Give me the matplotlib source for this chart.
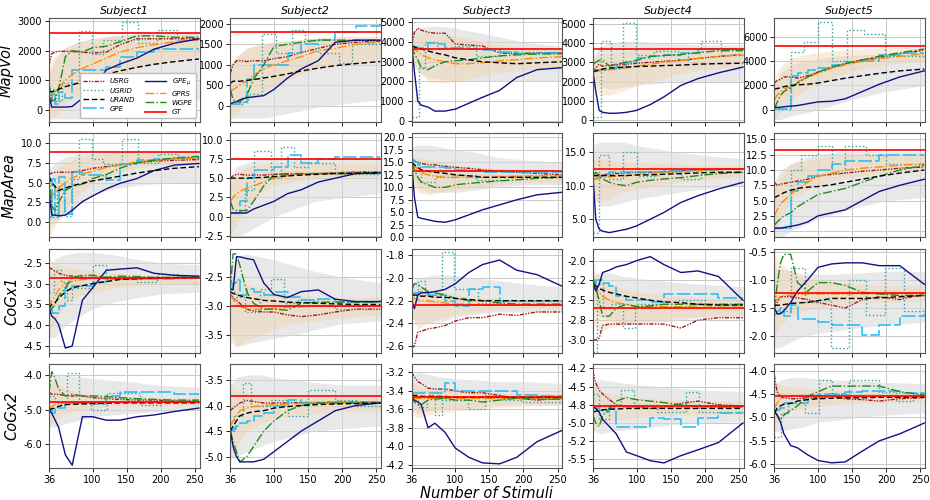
import matplotlib
matplotlib.use('Agg')
import matplotlib.pyplot as plt
from matplotlib.lines import Line2D
from matplotlib.ticker import MultipleLocator, FormatStrFormatter

# ---------------------------------------------------------------- data
STIM = [36, 40, 45, 50, 60, 70, 85, 100, 120, 140, 165, 190, 220, 256]
BAND_STIM = [36, 45, 60, 80, 100, 130, 160, 200, 256]
SUBJECTS = ['Subject1', 'Subject2', 'Subject3', 'Subject4', 'Subject5']
METRICS = ['MapVol', 'MapArea', 'CoGx1', 'CoGx2']

# --- MapVol
MAPVOL_GT = [2600, 1800, 3650, 3680, 5230]
MAPVOL_USRG = [
    [1500, 1900, 1950, 1980, 1980, 1970, 1950, 1920, 1950, 2200, 2400, 2400, 2400, 2400],
    [800, 1000, 1100, 1100, 1080, 1100, 1100, 1150, 1200, 1300, 1400, 1500, 1550, 1580],
    [3800, 4500, 4700, 4600, 4500, 4450, 4450, 3900, 3850, 3800, 3450, 3400, 3450, 3450],
    [2500, 2700, 2900, 2800, 2850, 2870, 2900, 2950, 3000, 3050, 3100, 3200, 3300, 3400],
    [2200, 2400, 2500, 2700, 2700, 2600, 2800, 3100, 3500, 3800, 4100, 4300, 4600, 4900]]
MAPVOL_URAND = [
    [600, 620, 650, 700, 790, 850, 950, 1060, 1200, 1320, 1440, 1540, 1630, 1720],
    [550, 600, 600, 600, 620, 640, 680, 720, 780, 850, 920, 980, 1030, 1080],
    [3800, 3750, 3700, 3650, 3550, 3450, 3350, 3200, 3100, 3000, 2950, 2900, 2950, 3000],
    [2500, 2550, 2600, 2650, 2700, 2720, 2750, 2780, 2800, 2830, 2850, 2900, 2930, 2950],
    [1700, 1750, 1800, 1900, 2000, 2050, 2100, 2200, 2400, 2600, 2800, 3000, 3200, 3350]]
MAPVOL_GPE = [
    [300, 600, 200, 600, 400, 1350, 1350, 1350, 1450, 1800, 1950, 2050, 2050, 2050],
    [50, 50, 50, 100, 650, 1000, 1000, 1000, 1300, 1500, 1600, 1800, 1950, 2000],
    [3800, 3750, 3700, 3700, 3950, 3900, 3700, 3700, 3650, 3600, 3500, 3400, 3450, 3450],
    [2600, 2600, 2600, 2600, 2650, 2800, 3000, 3200, 3300, 3400, 3500, 3700, 3700, 3700],
    [100, 100, 100, 100, 2800, 3000, 3300, 3400, 3700, 3900, 4000, 4500, 4700, 4700]]
MAPVOL_GPEMU = [
    [500, 100, 100, 100, 100, 120, 400, 700, 1350, 1550, 1750, 2050, 2250, 2400],
    [50, 80, 100, 150, 200, 220, 250, 400, 680, 900, 1100, 1550, 1600, 1600],
    [3800, 2500, 1000, 800, 700, 500, 500, 600, 900, 1200, 1550, 2200, 2600, 2700],
    [2500, 1500, 500, 400, 350, 350, 400, 500, 800, 1200, 1800, 2150, 2450, 2750],
    [200, 200, 200, 250, 300, 350, 500, 650, 700, 900, 1500, 2100, 2700, 3200]]
MAPVOL_GPRS = [
    [350, 450, 600, 750, 1000, 1200, 1400, 1550, 1750, 1950, 2100, 2200, 2300, 2370],
    [350, 400, 450, 520, 600, 750, 900, 1000, 1100, 1200, 1350, 1400, 1500, 1550],
    [3800, 3650, 3500, 3350, 3200, 3100, 3000, 2900, 2900, 2950, 3050, 3100, 3200, 3250],
    [2500, 2520, 2550, 2580, 2600, 2650, 2700, 2800, 2900, 3000, 3100, 3200, 3300, 3400],
    [800, 1200, 1500, 1700, 1900, 2300, 2700, 3000, 3400, 3700, 4000, 4200, 4400, 4600]]
MAPVOL_WGPE = [
    [900, 300, 350, 700, 1800, 2000, 1950, 2100, 2150, 2300, 2500, 2500, 2450, 2450],
    [400, 150, 100, 100, 250, 650, 1000, 1450, 1500, 1550, 1600, 1600, 1600, 1600],
    [3800, 3400, 3100, 2700, 2600, 2800, 3000, 3050, 3100, 3200, 3300, 3350, 3400, 3400],
    [2900, 3000, 3100, 3100, 2800, 2900, 3000, 3100, 3300, 3350, 3400, 3500, 3600, 3600],
    [100, 600, 1200, 1500, 1800, 2200, 2700, 3100, 3500, 3800, 4100, 4400, 4700, 5000]]
MAPVOL_UGRID_X = [
    [36, 45, 55, 80, 99, 115, 143, 167, 195, 224, 256],
    [36, 55, 62, 82, 103, 126, 145, 165, 195, 215, 256],
    [36, 46, 55, 73, 100, 130, 165, 256],
    [36, 48, 62, 80, 99, 125, 160, 175, 195, 224, 256],
    [36, 61, 80, 100, 120, 143, 168, 198, 256]]
MAPVOL_UGRID_Y = [
    [700, 300, 900, 2650, 1900, 2350, 2950, 2250, 2700, 2350, 2350],
    [50, 100, 300, 1750, 1300, 1850, 1600, 1300, 1050, 1500, 1500],
    [200, 2700, 4000, 3700, 3800, 3300, 3500, 3500],
    [150, 4100, 2700, 5050, 3400, 3600, 3100, 3500, 4100, 3400, 3400],
    [100, 4750, 5600, 7250, 4000, 6600, 6200, 4400, 4400]]
MAPVOL_GREY_LO = [
    [-300, -300, -300, -300, -250, -100, 100, 250, 350],
    [-300, -300, -300, -300, -250, -150, -50, 50, 150],
    [3000, 2500, 2200, 2100, 2050, 2000, 2000, 2000, 2000],
    [2300, 1800, 1600, 1700, 1800, 1900, 2000, 2000, 2000],
    [-800, -800, -500, -300, 0, 500, 1000, 1500, 2000]]
MAPVOL_GREY_HI = [
    [1200, 1700, 2100, 2300, 2400, 2500, 2550, 2600, 2650],
    [900, 1200, 1400, 1500, 1550, 1600, 1650, 1650, 1650],
    [4500, 4700, 4800, 4800, 4700, 4500, 4300, 4000, 3800],
    [3200, 3800, 4000, 4100, 4100, 4000, 3950, 3900, 3900],
    [2000, 3000, 3700, 4000, 4200, 4400, 4500, 4600, 4700]]
MAPVOL_BEIGE_LO = [
    [-300, -200, 200, 500, 800, 1100, 1400, 1600, 1800],
    [-300, -200, 100, 300, 500, 700, 900, 1000, 1100],
    [3200, 2600, 2000, 1900, 2000, 2200, 2400, 2600, 2700],
    [2000, 1300, 1300, 1500, 1800, 2100, 2400, 2600, 2800],
    [-900, -200, 800, 1500, 2200, 2800, 3300, 3700, 4000]]
MAPVOL_BEIGE_HI = [
    [1400, 1800, 2100, 2300, 2400, 2500, 2550, 2550, 2550],
    [1000, 1200, 1400, 1500, 1550, 1600, 1650, 1700, 1700],
    [4300, 4500, 4500, 4400, 4300, 4100, 3900, 3700, 3700],
    [3200, 3400, 3500, 3600, 3650, 3700, 3700, 3700, 3700],
    [2500, 3500, 4300, 4500, 4700, 4900, 5000, 5100, 5200]]

# --- MapArea
MAPAREA_GT = [8.85, 7.5, 13.3, 12.5, 13.2]
MAPAREA_USRG = [
    [6.0, 6.2, 6.3, 6.3, 6.3, 6.3, 6.5, 6.8, 7.0, 7.2, 7.5, 7.7, 7.8, 7.9],
    [5.0, 5.3, 5.5, 5.5, 5.4, 5.4, 5.4, 5.5, 5.5, 5.5, 5.6, 5.7, 5.8, 5.8],
    [15.5, 15.3, 15.0, 14.8, 14.5, 14.5, 14.2, 14.0, 13.8, 13.5, 13.2, 13.0, 12.8, 12.5],
    [11.5, 11.5, 11.6, 11.6, 11.7, 11.8, 11.9, 12.0, 12.0, 12.1, 12.2, 12.3, 12.4, 12.5],
    [8.0, 7.5, 7.7, 7.8, 8.0, 8.2, 8.5, 9.0, 9.3, 9.5, 9.8, 10.0, 10.3, 10.5]]
MAPAREA_URAND = [
    [5.8, 5.0, 4.5, 4.0, 4.3, 4.6, 4.9, 5.2, 5.5, 5.8, 6.2, 6.5, 6.8, 7.0],
    [5.0, 5.0, 5.0, 5.0, 5.0, 5.05, 5.1, 5.2, 5.3, 5.4, 5.5, 5.6, 5.65, 5.7],
    [15.0, 14.5, 14.0, 13.5, 13.2, 13.0, 12.8, 12.5, 12.3, 12.0, 12.0, 12.0, 12.0, 12.0],
    [11.5, 11.5, 11.5, 11.5, 11.5, 11.5, 11.5, 11.6, 11.6, 11.7, 11.8, 11.9, 12.0, 12.0],
    [5.5, 5.7, 6.0, 6.3, 6.7, 7.0, 7.2, 7.3, 7.6, 8.0, 8.5, 9.0, 9.5, 10.0]]
MAPAREA_GPE = [
    [0.6, 5.5, 0.8, 5.7, 1.0, 6.3, 6.0, 6.0, 5.3, 7.3, 7.8, 8.0, 8.1, 8.2],
    [0.5, 0.5, 0.5, 2.0, 5.0, 6.0, 6.0, 6.5, 8.0, 7.0, 7.5, 7.7, 7.7, 7.7],
    [15.5, 15.0, 14.5, 14.0, 14.0, 14.0, 13.8, 13.5, 13.3, 13.0, 13.0, 13.0, 13.0, 13.0],
    [11.0, 11.2, 11.5, 11.8, 12.0, 12.0, 12.0, 12.0, 12.0, 12.2, 12.3, 12.4, 12.5, 12.5],
    [0.5, 0.5, 0.5, 0.5, 6.5, 8.0, 9.0, 10.0, 11.0, 11.5, 11.5, 12.5, 12.5, 12.5]]
MAPAREA_GPEMU = [
    [4.0, 0.9, 0.9, 0.8, 0.9, 1.5, 2.6, 3.3, 4.2, 4.9, 5.5, 6.5, 7.2, 7.4],
    [0.5, 0.5, 0.5, 0.5, 0.5, 1.0, 1.5, 2.0, 3.0, 3.5, 4.5, 5.0, 5.6, 5.7],
    [15.0, 8.0, 4.0, 3.8, 3.5, 3.2, 3.0, 3.5, 4.5, 5.5, 6.5, 7.5, 8.5, 9.0],
    [11.5, 5.0, 3.5, 3.2, 3.0, 3.2, 3.5, 4.0, 5.0, 6.0, 7.5, 8.5, 9.5, 10.5],
    [0.5, 0.5, 0.5, 0.6, 0.8, 1.0, 1.5, 2.5, 3.0, 3.5, 5.0, 6.5, 7.5, 8.5]]
MAPAREA_GPRS = [
    [2.8, 3.3, 3.8, 4.3, 5.0, 5.6, 6.1, 6.4, 6.9, 7.2, 7.6, 7.8, 8.0, 8.1],
    [2.0, 2.5, 3.0, 3.3, 3.7, 4.0, 4.5, 5.0, 5.3, 5.5, 5.6, 5.6, 5.7, 5.7],
    [15.0, 14.2, 13.5, 13.0, 12.5, 12.2, 12.0, 12.0, 12.0, 12.0, 12.1, 12.2, 12.3, 12.3],
    [11.0, 11.0, 11.1, 11.2, 11.3, 11.4, 11.5, 11.7, 11.8, 12.0, 12.1, 12.2, 12.4, 12.5],
    [2.5, 3.5, 4.5, 5.0, 6.0, 7.0, 8.0, 9.0, 9.5, 10.0, 10.3, 10.5, 10.8, 11.0]]
MAPAREA_WGPE = [
    [6.0, 2.0, 1.5, 2.5, 4.0, 4.5, 4.8, 5.5, 6.0, 6.8, 7.5, 7.8, 8.1, 8.3],
    [2.0, 1.0, 0.8, 0.8, 0.8, 2.0, 4.0, 5.5, 5.6, 5.6, 5.6, 5.6, 5.6, 5.6],
    [15.0, 13.5, 12.0, 11.0, 10.5, 10.0, 10.0, 10.5, 10.8, 11.0, 11.3, 11.5, 11.8, 12.0],
    [11.5, 12.0, 11.5, 11.0, 10.5, 10.2, 10.0, 10.5, 10.8, 11.0, 11.2, 11.5, 11.8, 12.0],
    [1.0, 1.5, 2.0, 2.5, 3.0, 4.0, 5.0, 6.0, 6.5, 7.0, 8.0, 9.0, 10.0, 10.8]]
MAPAREA_UGRID_X = [
    [36, 48, 58, 70, 80, 99, 115, 143, 167, 196, 225, 256],
    [36, 58, 70, 95, 110, 130, 150, 190, 256],
    [36, 50, 70, 100, 130, 165, 256],
    [36, 45, 60, 80, 100, 130, 165, 195, 225, 256],
    [36, 60, 75, 100, 120, 140, 170, 200, 256]]
MAPAREA_UGRID_Y = [
    [0.6, 4.0, 0.8, 5.5, 10.5, 8.0, 7.3, 10.5, 7.5, 8.6, 8.1, 8.1],
    [0.5, 3.5, 8.5, 5.0, 9.0, 6.5, 7.0, 5.5, 5.5],
    [14.0, 11.0, 12.0, 12.5, 11.5, 12.0, 12.0],
    [3.0, 14.5, 11.0, 15.0, 11.5, 12.0, 11.0, 12.5, 12.0, 12.0],
    [0.5, 10.0, 12.5, 14.0, 9.5, 14.0, 12.5, 11.0, 11.0]]
MAPAREA_GREY_LO = [
    [-0.5, 0.0, 1.0, 2.5, 3.5, 4.2, 4.6, 4.9, 5.0],
    [-2.6, -2.6, -2.0, -1.0, 0.0, 1.0, 2.0, 2.5, 3.0],
    [12.0, 10.0, 9.0, 9.0, 9.0, 9.5, 10.0, 10.5, 10.5],
    [9.0, 7.0, 7.0, 7.5, 8.0, 8.5, 9.0, 9.5, 10.0],
    [-1.0, -1.0, 0.0, 1.0, 2.0, 3.0, 4.0, 5.0, 5.5]]
MAPAREA_GREY_HI = [
    [6.5, 7.5, 8.2, 8.6, 8.7, 8.8, 8.9, 8.9, 9.0],
    [5.0, 6.5, 7.0, 7.5, 7.5, 7.5, 7.5, 7.5, 7.5],
    [18.0, 18.5, 18.5, 18.0, 17.5, 17.0, 16.0, 15.5, 15.0],
    [16.0, 16.5, 16.5, 16.5, 16.0, 15.5, 15.0, 14.5, 14.0],
    [8.0, 10.0, 11.0, 12.0, 12.5, 13.0, 13.0, 13.0, 13.0]]
MAPAREA_BEIGE_LO = [
    [-1.8, -0.5, 1.5, 3.5, 5.0, 6.0, 6.8, 7.2, 7.5],
    [-2.6, -1.0, 1.5, 3.0, 4.0, 4.5, 5.0, 5.2, 5.3],
    [11.0, 9.0, 8.5, 9.0, 9.5, 10.0, 10.5, 11.0, 11.0],
    [8.0, 7.5, 8.0, 9.0, 9.5, 10.0, 10.5, 11.0, 11.3],
    [-1.0, 2.0, 5.0, 6.5, 7.5, 8.5, 9.0, 9.5, 10.0]]
MAPAREA_BEIGE_HI = [
    [5.0, 6.5, 7.5, 8.2, 8.5, 8.7, 8.7, 8.7, 8.7],
    [4.5, 5.5, 6.5, 6.8, 7.0, 7.0, 7.0, 7.0, 7.0],
    [16.0, 16.0, 15.5, 15.0, 14.5, 14.0, 13.8, 13.5, 13.5],
    [14.0, 14.0, 13.8, 13.6, 13.5, 13.3, 13.2, 13.0, 13.0],
    [7.0, 9.0, 11.0, 11.5, 12.0, 12.3, 12.5, 12.5, 12.5]]

# --- CoGx1
COGX1_GT = [-2.86, -3.0, -2.235, -2.6, -1.24]
COGX1_USRG = [
    [-2.6, -2.65, -2.7, -2.75, -2.8, -2.82, -2.85, -2.85, -2.88, -2.88, -2.88, -2.87, -2.86, -2.85],
    [-2.8, -2.85, -2.9, -2.95, -3.05, -3.08, -3.1, -3.1, -3.15, -3.18, -3.15, -3.1, -3.05, -3.05],
    [-2.62, -2.6, -2.48, -2.47, -2.45, -2.44, -2.42, -2.38, -2.35, -2.35, -2.32, -2.33, -2.3, -2.3],
    [-3.0, -3.0, -2.98, -2.82, -2.8, -2.8, -2.8, -2.8, -2.8, -2.8, -2.85, -2.75, -2.72, -2.72],
    [-1.5, -1.4, -1.3, -1.3, -1.3, -1.32, -1.35, -1.4, -1.45, -1.5, -1.35, -1.3, -1.35, -1.25]]
COGX1_URAND = [
    [-3.6, -3.5, -3.45, -3.35, -3.2, -3.1, -3.05, -3.0, -2.95, -2.9, -2.88, -2.87, -2.86, -2.85],
    [-2.75, -2.78, -2.8, -2.82, -2.85, -2.87, -2.9, -2.91, -2.93, -2.94, -2.95, -2.96, -2.97, -2.97],
    [-2.15, -2.15, -2.15, -2.16, -2.16, -2.17, -2.17, -2.18, -2.19, -2.2, -2.2, -2.2, -2.2, -2.2],
    [-2.3, -2.32, -2.35, -2.37, -2.4, -2.42, -2.45, -2.47, -2.5, -2.52, -2.53, -2.55, -2.56, -2.56],
    [-1.45, -1.45, -1.45, -1.44, -1.42, -1.41, -1.4, -1.37, -1.33, -1.33, -1.33, -1.32, -1.3, -1.28]]
COGX1_GPE = [
    [-3.6, -3.7, -3.7, -3.55, -3.1, -3.05, -3.05, -2.95, -2.88, -2.88, -2.9, -2.88, -2.85, -2.85],
    [-2.7, -2.6, -2.55, -2.8, -2.7, -2.75, -2.8, -2.75, -2.85, -2.9, -2.87, -2.93, -2.92, -2.9],
    [-2.15, -2.13, -2.12, -2.12, -2.15, -2.15, -2.2, -2.25, -2.1, -2.08, -2.2, -2.2, -2.2, -2.2],
    [-2.3, -2.25, -2.25, -2.28, -2.32, -2.45, -2.5, -2.5, -2.52, -2.42, -2.42, -2.42, -2.47, -2.47],
    [-1.6, -1.55, -1.5, -1.65, -1.45, -1.7, -1.7, -1.75, -1.8, -1.8, -1.97, -1.8, -1.65, -1.6]]
COGX1_GPEMU = [
    [-3.6, -3.78, -3.85, -3.98, -4.55, -4.5, -3.4, -3.1, -2.68, -2.65, -2.62, -2.75, -2.8, -2.82],
    [-2.7, -2.72, -2.15, -2.15, -2.18, -2.2, -2.6, -2.8, -2.85, -2.75, -2.72, -2.88, -2.92, -2.92],
    [-2.2, -2.27, -2.15, -2.13, -2.13, -2.12, -2.1, -2.05, -1.95, -1.88, -1.84, -1.93, -1.97, -2.07],
    [-2.3, -2.38, -2.3, -2.15, -2.12, -2.08, -2.05, -2.0, -1.95, -2.05, -2.15, -2.13, -2.2, -2.5],
    [-1.5, -1.6, -1.6, -1.55, -1.4, -1.2, -1.0, -0.78, -0.72, -0.7, -0.7, -0.75, -0.75, -1.08]]
COGX1_GPRS = [
    [-3.6, -3.4, -3.3, -3.15, -3.0, -2.95, -2.9, -2.88, -2.87, -2.87, -2.86, -2.86, -2.85, -2.85],
    [-2.8, -2.88, -2.95, -3.0, -3.05, -3.05, -3.05, -3.04, -3.02, -3.01, -3.0, -3.0, -3.0, -3.0],
    [-2.18, -2.18, -2.19, -2.2, -2.2, -2.21, -2.22, -2.23, -2.23, -2.24, -2.24, -2.24, -2.24, -2.24],
    [-2.3, -2.35, -2.4, -2.45, -2.5, -2.53, -2.55, -2.58, -2.58, -2.58, -2.58, -2.57, -2.57, -2.57],
    [-1.4, -1.35, -1.3, -1.28, -1.27, -1.26, -1.25, -1.25, -1.25, -1.25, -1.25, -1.25, -1.25, -1.25]]
COGX1_WGPE = [
    [-3.7, -3.6, -3.5, -3.3, -3.1, -2.85, -2.8, -2.8, -2.85, -2.82, -2.83, -2.85, -2.85, -2.85],
    [-2.7, -2.1, -2.1, -2.3, -2.75, -2.95, -3.05, -3.05, -3.07, -2.95, -2.93, -2.93, -2.93, -2.93],
    [-2.1, -2.05, -2.05, -2.08, -2.12, -2.13, -2.15, -2.18, -2.2, -2.2, -2.22, -2.23, -2.23, -2.23],
    [-2.2, -2.35, -2.5, -2.7, -2.7, -2.6, -2.55, -2.58, -2.57, -2.55, -2.55, -2.55, -2.55, -2.55],
    [-1.5, -1.1, -0.7, -0.55, -0.55, -1.05, -1.2, -1.05, -1.05, -1.1, -1.22, -1.25, -1.28, -1.28]]
COGX1_UGRID_X = [
    [36, 43, 53, 63, 70, 100, 119, 165, 195, 225, 256],
    [36, 45, 58, 80, 95, 115, 135, 160, 190, 256],
    [36, 45, 56, 81, 98, 133, 170, 256],
    [36, 42, 50, 62, 80, 98, 140, 160, 200, 256],
    [36, 45, 61, 81, 100, 119, 145, 170, 198, 226, 256]]
COGX1_UGRID_Y = [
    [-3.2, -2.66, -2.95, -3.4, -3.1, -2.55, -2.9, -2.95, -2.78, -2.85, -2.85],
    [-2.75, -2.85, -3.1, -2.7, -2.53, -2.95, -2.9, -3.0, -3.05, -3.05],
    [-2.15, -2.03, -2.15, -1.77, -2.1, -2.22, -2.2, -2.2],
    [-3.15, -2.3, -2.6, -2.55, -2.85, -2.55, -2.58, -2.5, -2.55, -2.55],
    [-1.6, -1.55, -0.8, -1.4, -1.35, -2.21, -1.0, -1.62, -0.8, -1.55, -1.55]]
COGX1_GREY_LO = [
    [-4.3, -4.3, -4.0, -3.8, -3.6, -3.45, -3.35, -3.25, -3.2],
    [-3.6, -3.7, -3.65, -3.6, -3.55, -3.5, -3.4, -3.3, -3.25],
    [-2.35, -2.4, -2.4, -2.38, -2.35, -2.32, -2.3, -2.3, -2.3],
    [-2.6, -2.7, -2.75, -2.8, -2.8, -2.78, -2.75, -2.72, -2.7],
    [-2.2, -2.2, -2.1, -2.0, -1.95, -1.9, -1.85, -1.8, -1.75]]
COGX1_GREY_HI = [
    [-2.7, -2.4, -2.3, -2.25, -2.25, -2.3, -2.4, -2.5, -2.55],
    [-2.3, -2.15, -2.1, -2.15, -2.2, -2.3, -2.4, -2.5, -2.6],
    [-2.05, -2.0, -1.98, -1.97, -1.98, -2.0, -2.02, -2.05, -2.08],
    [-2.2, -2.15, -2.15, -2.2, -2.22, -2.25, -2.28, -2.3, -2.33],
    [-0.8, -0.8, -0.85, -0.9, -0.9, -0.9, -0.88, -0.85, -0.85]]
COGX1_BEIGE_LO = [
    [-4.2, -3.9, -3.5, -3.3, -3.2, -3.1, -3.05, -3.0, -3.0],
    [-3.4, -3.7, -3.6, -3.5, -3.4, -3.3, -3.25, -3.2, -3.15],
    [-2.35, -2.45, -2.4, -2.35, -2.32, -2.3, -2.28, -2.27, -2.27],
    [-2.8, -2.9, -2.85, -2.8, -2.78, -2.75, -2.72, -2.7, -2.7],
    [-2.0, -1.8, -1.65, -1.55, -1.5, -1.45, -1.42, -1.4, -1.38]]
COGX1_BEIGE_HI = [
    [-2.4, -2.5, -2.6, -2.65, -2.7, -2.75, -2.78, -2.8, -2.8],
    [-2.5, -2.5, -2.6, -2.7, -2.75, -2.8, -2.85, -2.85, -2.85],
    [-2.05, -2.05, -2.1, -2.12, -2.15, -2.17, -2.18, -2.2, -2.2],
    [-2.1, -2.2, -2.3, -2.35, -2.4, -2.42, -2.45, -2.47, -2.48],
    [-0.55, -0.7, -0.85, -0.95, -1.0, -1.05, -1.08, -1.1, -1.1]]

# --- CoGx2
COGX2_GT = [-4.78, -3.81, -3.47, -4.77, -4.55]
COGX2_USRG = [
    [-4.5, -4.55, -4.55, -4.55, -4.6, -4.6, -4.6, -4.65, -4.68, -4.7, -4.72, -4.72, -4.75, -4.75],
    [-4.1, -4.05, -4.0, -3.95, -3.9, -3.92, -3.95, -3.95, -3.95, -3.94, -3.94, -3.93, -3.93, -3.93],
    [-3.2, -3.25, -3.3, -3.32, -3.37, -3.38, -3.38, -3.4, -3.42, -3.42, -3.45, -3.48, -3.5, -3.48],
    [-4.3, -4.45, -4.55, -4.6, -4.68, -4.75, -4.77, -4.78, -4.8, -4.78, -4.73, -4.7, -4.75, -4.77],
    [-4.1, -4.45, -4.55, -4.58, -4.6, -4.6, -4.58, -4.58, -4.55, -4.6, -4.62, -4.65, -4.6, -4.58]]
COGX2_URAND = [
    [-5.0, -4.97, -4.95, -4.9, -4.85, -4.84, -4.83, -4.82, -4.81, -4.8, -4.8, -4.8, -4.8, -4.8],
    [-4.5, -4.4, -4.3, -4.2, -4.15, -4.12, -4.1, -4.05, -4.02, -4.0, -3.98, -3.97, -3.96, -3.95],
    [-3.45, -3.45, -3.45, -3.46, -3.46, -3.46, -3.46, -3.47, -3.47, -3.47, -3.47, -3.47, -3.47, -3.47],
    [-4.85, -4.84, -4.83, -4.82, -4.81, -4.81, -4.8, -4.8, -4.8, -4.8, -4.8, -4.8, -4.8, -4.8],
    [-4.9, -4.8, -4.75, -4.72, -4.7, -4.65, -4.62, -4.6, -4.59, -4.58, -4.58, -4.57, -4.57, -4.57]]
COGX2_GPE = [
    [-5.0, -5.1, -4.95, -4.95, -4.8, -4.8, -4.8, -4.82, -4.6, -4.5, -4.48, -4.5, -4.55, -4.55],
    [-4.5, -4.45, -4.4, -4.35, -4.3, -4.2, -4.15, -4.0, -3.9, -3.95, -3.95, -3.95, -3.95, -3.95],
    [-3.42, -3.42, -3.42, -3.42, -3.42, -3.42, -3.32, -3.4, -3.4, -3.4, -3.4, -3.45, -3.46, -3.46],
    [-4.8, -4.8, -4.82, -4.85, -4.8, -5.05, -5.05, -5.05, -4.93, -4.95, -5.05, -4.93, -4.87, -4.87],
    [-4.87, -4.85, -4.8, -4.7, -4.7, -4.7, -4.55, -4.5, -4.5, -4.45, -4.43, -4.43, -4.47, -4.5]]
COGX2_GPEMU = [
    [-5.0, -5.1, -5.3, -5.5, -6.3, -6.6, -5.2, -5.2, -5.3, -5.3, -5.2, -5.15, -5.05, -4.95],
    [-4.5, -4.8, -5.0, -5.1, -5.1, -5.1, -5.05, -4.9, -4.7, -4.5, -4.3, -4.1, -4.0, -3.95],
    [-3.48, -3.5, -3.52, -3.55, -3.8, -3.75, -3.85, -4.02, -4.12, -4.18, -4.19, -4.12, -3.95, -3.83],
    [-4.78, -4.8, -4.85, -4.95, -5.05, -5.15, -5.4, -5.45, -5.52, -5.55, -5.45, -5.37, -5.27, -5.0],
    [-4.87, -4.95, -5.1, -5.35, -5.6, -5.65, -5.8, -5.92, -5.97, -5.95, -5.72, -5.5, -5.35, -5.12]]
COGX2_GPRS = [
    [-5.0, -4.9, -4.85, -4.82, -4.8, -4.8, -4.79, -4.78, -4.78, -4.78, -4.78, -4.78, -4.78, -4.78],
    [-4.4, -4.3, -4.2, -4.1, -4.05, -4.02, -4.0, -3.98, -3.97, -3.96, -3.95, -3.94, -3.93, -3.93],
    [-3.48, -3.48, -3.48, -3.48, -3.48, -3.48, -3.48, -3.48, -3.48, -3.48, -3.48, -3.48, -3.48, -3.48],
    [-4.8, -4.79, -4.78, -4.78, -4.78, -4.78, -4.78, -4.78, -4.78, -4.78, -4.78, -4.78, -4.78, -4.78],
    [-4.8, -4.7, -4.6, -4.57, -4.55, -4.55, -4.55, -4.55, -4.55, -4.55, -4.55, -4.55, -4.55, -4.55]]
COGX2_WGPE = [
    [-4.5, -3.9, -4.1, -4.4, -4.6, -4.55, -4.6, -4.6, -4.62, -4.65, -4.68, -4.7, -4.72, -4.72],
    [-4.5, -4.7, -4.9, -5.1, -5.0, -4.8, -4.5, -4.3, -4.1, -4.0, -3.95, -3.95, -3.95, -3.95],
    [-3.45, -3.52, -3.55, -3.55, -3.5, -3.49, -3.48, -3.5, -3.5, -3.52, -3.5, -3.48, -3.49, -3.49],
    [-4.9, -5.0, -5.05, -4.9, -4.8, -4.7, -4.65, -4.68, -4.7, -4.72, -4.75, -4.77, -4.78, -4.78],
    [-4.87, -4.95, -5.05, -4.95, -4.85, -4.75, -4.55, -4.45, -4.33, -4.33, -4.33, -4.33, -4.45, -4.52]]
COGX2_UGRID_X = [
    [36, 45, 62, 80, 98, 121, 170, 200, 256],
    [36, 42, 55, 67, 95, 120, 150, 190, 220, 256],
    [36, 45, 58, 70, 80, 118, 143, 170, 200, 256],
    [36, 45, 60, 77, 96, 130, 172, 192, 230, 256],
    [36, 46, 56, 81, 101, 120, 146, 190, 215, 240, 256]]
COGX2_UGRID_Y = [
    [-4.6, -4.8, -3.93, -4.8, -5.0, -4.52, -4.85, -4.75, -4.75],
    [-4.5, -4.2, -3.55, -4.0, -3.9, -4.2, -3.7, -3.9, -4.0, -4.0],
    [-3.45, -3.58, -3.45, -3.66, -3.5, -3.6, -3.45, -3.5, -3.52, -3.5],
    [-4.6, -4.95, -4.75, -4.55, -4.75, -4.85, -4.58, -4.85, -4.85, -4.85],
    [-5.42, -4.9, -4.7, -4.9, -4.2, -4.5, -4.2, -4.45, -4.65, -4.5, -4.5]]
COGX2_GREY_LO = [
    [-5.5, -5.5, -5.4, -5.3, -5.2, -5.15, -5.1, -5.05, -5.0],
    [-5.0, -5.0, -4.9, -4.8, -4.7, -4.6, -4.5, -4.45, -4.4],
    [-3.6, -3.65, -3.62, -3.6, -3.6, -3.58, -3.56, -3.55, -3.55],
    [-5.1, -5.15, -5.12, -5.1, -5.08, -5.05, -5.02, -5.0, -4.98],
    [-5.3, -5.3, -5.25, -5.2, -5.1, -5.05, -5.0, -4.95, -4.9]]
COGX2_GREY_HI = [
    [-4.2, -4.0, -4.0, -4.05, -4.1, -4.15, -4.2, -4.3, -4.35],
    [-3.6, -3.45, -3.4, -3.4, -3.45, -3.5, -3.55, -3.6, -3.6],
    [-3.25, -3.2, -3.22, -3.25, -3.27, -3.28, -3.3, -3.3, -3.32],
    [-4.45, -4.4, -4.42, -4.45, -4.47, -4.5, -4.52, -4.55, -4.57],
    [-4.3, -4.2, -4.15, -4.15, -4.18, -4.2, -4.22, -4.25, -4.28]]
COGX2_BEIGE_LO = [
    [-5.5, -5.3, -5.1, -5.0, -4.95, -4.9, -4.9, -4.88, -4.88],
    [-5.1, -4.8, -4.5, -4.35, -4.25, -4.2, -4.15, -4.1, -4.1],
    [-3.65, -3.7, -3.66, -3.64, -3.62, -3.6, -3.58, -3.57, -3.55],
    [-5.1, -5.0, -4.98, -4.95, -4.93, -4.9, -4.9, -4.88, -4.88],
    [-5.3, -5.0, -4.85, -4.8, -4.75, -4.72, -4.7, -4.68, -4.66]]
COGX2_BEIGE_HI = [
    [-4.0, -4.2, -4.4, -4.5, -4.55, -4.6, -4.62, -4.65, -4.65],
    [-3.6, -3.7, -3.75, -3.8, -3.82, -3.82, -3.82, -3.82, -3.82],
    [-3.3, -3.35, -3.37, -3.38, -3.4, -3.4, -3.42, -3.42, -3.43],
    [-4.5, -4.55, -4.6, -4.62, -4.65, -4.67, -4.68, -4.7, -4.7],
    [-4.25, -4.3, -4.35, -4.38, -4.4, -4.42, -4.43, -4.45, -4.45]]

# ---------------------------------------------------------------- layout
ROWS = [
    dict(gt=MAPVOL_GT, usrg=MAPVOL_USRG, urand=MAPVOL_URAND, gpe=MAPVOL_GPE,
         gpemu=MAPVOL_GPEMU, gprs=MAPVOL_GPRS, wgpe=MAPVOL_WGPE,
         ugx=MAPVOL_UGRID_X, ugy=MAPVOL_UGRID_Y,
         glo=MAPVOL_GREY_LO, ghi=MAPVOL_GREY_HI, blo=MAPVOL_BEIGE_LO, bhi=MAPVOL_BEIGE_HI),
    dict(gt=MAPAREA_GT, usrg=MAPAREA_USRG, urand=MAPAREA_URAND, gpe=MAPAREA_GPE,
         gpemu=MAPAREA_GPEMU, gprs=MAPAREA_GPRS, wgpe=MAPAREA_WGPE,
         ugx=MAPAREA_UGRID_X, ugy=MAPAREA_UGRID_Y,
         glo=MAPAREA_GREY_LO, ghi=MAPAREA_GREY_HI, blo=MAPAREA_BEIGE_LO, bhi=MAPAREA_BEIGE_HI),
    dict(gt=COGX1_GT, usrg=COGX1_USRG, urand=COGX1_URAND, gpe=COGX1_GPE,
         gpemu=COGX1_GPEMU, gprs=COGX1_GPRS, wgpe=COGX1_WGPE,
         ugx=COGX1_UGRID_X, ugy=COGX1_UGRID_Y,
         glo=COGX1_GREY_LO, ghi=COGX1_GREY_HI, blo=COGX1_BEIGE_LO, bhi=COGX1_BEIGE_HI),
    dict(gt=COGX2_GT, usrg=COGX2_USRG, urand=COGX2_URAND, gpe=COGX2_GPE,
         gpemu=COGX2_GPEMU, gprs=COGX2_GPRS, wgpe=COGX2_WGPE,
         ugx=COGX2_UGRID_X, ugy=COGX2_UGRID_Y,
         glo=COGX2_GREY_LO, ghi=COGX2_GREY_HI, blo=COGX2_BEIGE_LO, bhi=COGX2_BEIGE_HI),
]

YLIMS = [
    [(-400, 3100), (-390, 2140), (-50, 5220), (-100, 5300), (-1000, 7550)],
    [(-1.9, 11.2), (-2.65, 10.8), (0.0, 20.8), (2.3, 17.8), (-1.0, 16.0)],
    [(-4.66, -2.16), (-3.8, -2.01), (-2.66, -1.74), (-3.16, -1.85), (-2.29, -0.45)],
    [(-6.68, -3.68), (-5.22, -3.19), (-4.235, -3.11), (-5.62, -4.19), (-6.08, -3.86)],
]
YSTEP = [
    [1000, 500, 1000, 1000, 2000],
    [2.5, 2.5, 2.5, 5.0, 2.5],
    [0.5, 0.5, 0.2, 0.25, 0.5],
    [1.0, 0.5, 0.2, 0.25, 0.5],
]

STYLE = {
    'USRG':  dict(color='#a01c1c', ls=(0, (3, 1, 1, 1, 1, 1)), lw=1.0),
    'UGRID': dict(color='#2aa5a5', ls=':', lw=1.0),
    'URAND': dict(color='black', ls=(0, (4, 2)), lw=1.0),
    'GPE':   dict(color='#1ebcf5', ls=(0, (9, 2)), lw=1.1),
    'GPEMU': dict(color='#101088', ls='-', lw=1.0),
    'GPRS':  dict(color='darkorange', ls='-.', lw=1.0),
    'WGPE':  dict(color='#1f8a1f', ls='-.', lw=1.0),
    'GT':    dict(color='red', ls='-', lw=1.2),
}


def style(name):
    s = STYLE[name]
    return dict(color=s['color'], linestyle=s['ls'], linewidth=s['lw'])


def draw_panel(ax, r, c):
    d = ROWS[r]
    ax.fill_between(BAND_STIM, d['glo'][c], d['ghi'][c], color='#d9d9d9',
                    alpha=0.6, linewidth=0, zorder=1)
    ax.fill_between(BAND_STIM, d['blo'][c], d['bhi'][c], color='#f3cfa5',
                    alpha=0.4, linewidth=0, zorder=1.1)
    ax.plot(STIM, d['usrg'][c], zorder=2, **style('USRG'))
    ax.plot(d['ugx'][c], d['ugy'][c], drawstyle='steps-post', zorder=2, **style('UGRID'))
    ax.plot(STIM, d['urand'][c], zorder=2.2, **style('URAND'))
    ax.plot(STIM, d['gpe'][c], drawstyle='steps-post', zorder=2, **style('GPE'))
    ax.plot(STIM, d['gpemu'][c], zorder=2.1, **style('GPEMU'))
    ax.plot(STIM, d['gprs'][c], zorder=2, **style('GPRS'))
    ax.plot(STIM, d['wgpe'][c], zorder=2, **style('WGPE'))
    ax.axhline(d['gt'][c], zorder=2.5, **style('GT'))

    ax.set_xlim(36, 257)
    ax.set_ylim(*YLIMS[r][c])
    ax.set_xticks([36, 100, 150, 200, 250])
    ax.yaxis.set_major_locator(MultipleLocator(YSTEP[r][c]))
    if r > 0:
        ax.yaxis.set_major_formatter(FormatStrFormatter('%.1f'))
    ax.grid(True, color='#c8c8c8', linewidth=0.7)
    ax.set_axisbelow(True)
    ax.tick_params(labelsize=7, length=3, width=0.6, pad=2)
    if r < 3:
        ax.tick_params(labelbottom=False)
    for sp in ax.spines.values():
        sp.set_color('#555555')
        sp.set_linewidth(0.8)


fig, axes = plt.subplots(4, 5, figsize=(9.3, 5.0), dpi=100)
fig.subplots_adjust(left=0.0527, right=0.9946, top=0.964, bottom=0.064,
                    wspace=0.204, hspace=0.11)

for r in range(4):
    for c in range(5):
        draw_panel(axes[r, c], r, c)
    axes[r, 0].set_ylabel(METRICS[r], fontsize=10.5, style='italic', labelpad=3)
for c in range(5):
    axes[0, c].set_title(SUBJECTS[c], fontsize=8, style='italic', pad=3)
axes[3, 2].set_xlabel('Number of Stimuli', fontsize=10.5, style='italic', labelpad=1)

labels = ['USRG', 'UGRID', 'URAND', 'GPE', r'GPE$_\mu$', 'GPRS', 'WGPE', 'GT']
keys = ['USRG', 'UGRID', 'URAND', 'GPE', 'GPEMU', 'GPRS', 'WGPE', 'GT']
handles = [Line2D([], [], **style(k)) for k in keys]
axes[0, 0].legend(handles, labels, ncol=2, loc='lower right',
                  prop={'size': 5, 'style': 'italic'}, handlelength=3.0,
                  columnspacing=1.5, labelspacing=0.45, borderpad=0.5,
                  framealpha=1.0, edgecolor='#bbbbbb', fancybox=True)

fig.savefig('out.png', dpi=100)
